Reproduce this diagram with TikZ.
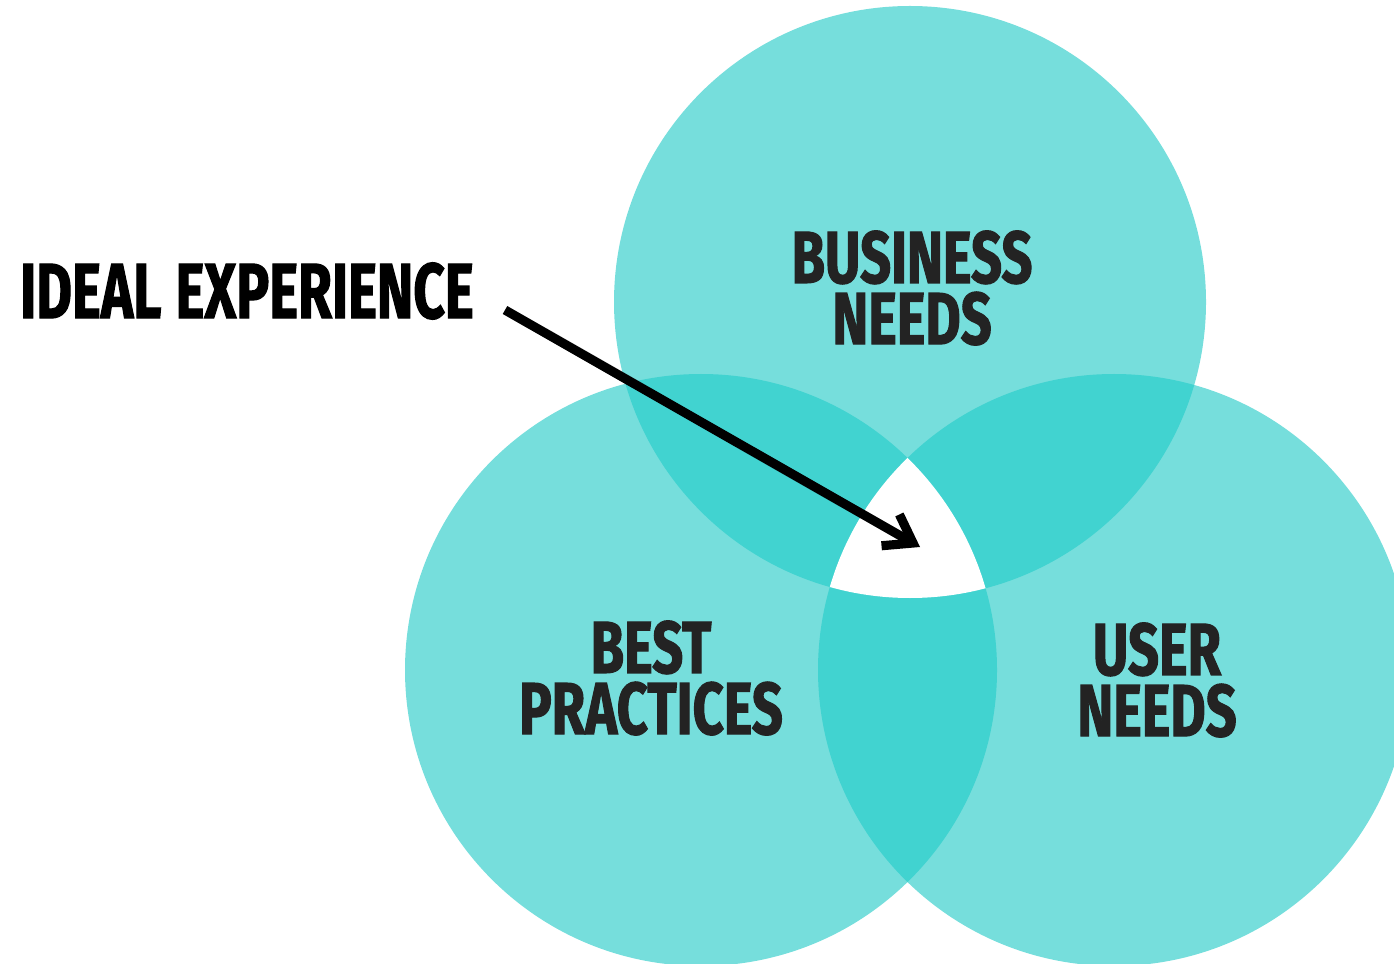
\documentclass[tikz,border=0pt]{standalone}
\usepackage{fontspec}
\usetikzlibrary{arrows.meta}
\newfontfamily\vennfont[FakeStretch=0.70,FakeBold=1.4]{Fira Sans}
\newfontfamily\circfont[FakeStretch=0.735,FakeBold=1.4]{Fira Sans}
\definecolor{tealClaro}{HTML}{76DEDC}
\definecolor{tealOscuro}{HTML}{41D3D0}
\definecolor{grisTexto}{HTML}{232323}
\tikzset{
  circlabel/.style={text=grisTexto,align=center,inner sep=0pt,
    font=\circfont\bfseries\fontsize{21}{17.4}\selectfont},
  pointer/.style={line width=2.6pt,
    -{Straight Barb[length=2.6mm,width=3.6mm,line cap=butt,line join=miter]}}
}

\begin{document}
\begin{tikzpicture}[x=0.01cm,y=0.01cm,yscale=-1]
    \useasboundingbox (0,0) rectangle (1394,964);
    \clip (0,0) rectangle (1394,964);
    \coordinate (business) at (910,302);
    \coordinate (practices) at (701,670);
    \coordinate (users) at (1114,670);

    % circles
    \fill[tealClaro] (business) circle (296);
    \fill[tealClaro] (practices) circle (296);
    \fill[tealClaro] (users) circle (296);

    % pair overlaps
    \begin{scope}
      \clip (business) circle (296);
      \fill[tealOscuro] (practices) circle (296);
      \fill[tealOscuro] (users) circle (296);
    \end{scope}
    \begin{scope}
      \clip (practices) circle (296);
      \fill[tealOscuro] (users) circle (296);
    \end{scope}

    % all three
    \begin{scope}
      \clip (business) circle (296);
      \clip (practices) circle (296);
      \fill[white] (users) circle (296);
    \end{scope}

    \node[circlabel] (businessText) at (912,288) {BUSINESS\\NEEDS};
    \node[circlabel] (practicesText) at (651,678) {BEST\\PRACTICES};
    \node[circlabel] (usersText) at (1157,680) {USER\\NEEDS};

    \node[inner sep=0pt,font=\vennfont\bfseries\fontsize{22.3}{24}\selectfont] (ideal) at (247,291) {IDEAL\hspace{0.18em}EXPERIENCE};
    \coordinate (tail) at (505,310);
    \coordinate (tip) at (920,547);
    \draw[pointer] (tail) -- (tip);
  \end{tikzpicture}
\end{document}
